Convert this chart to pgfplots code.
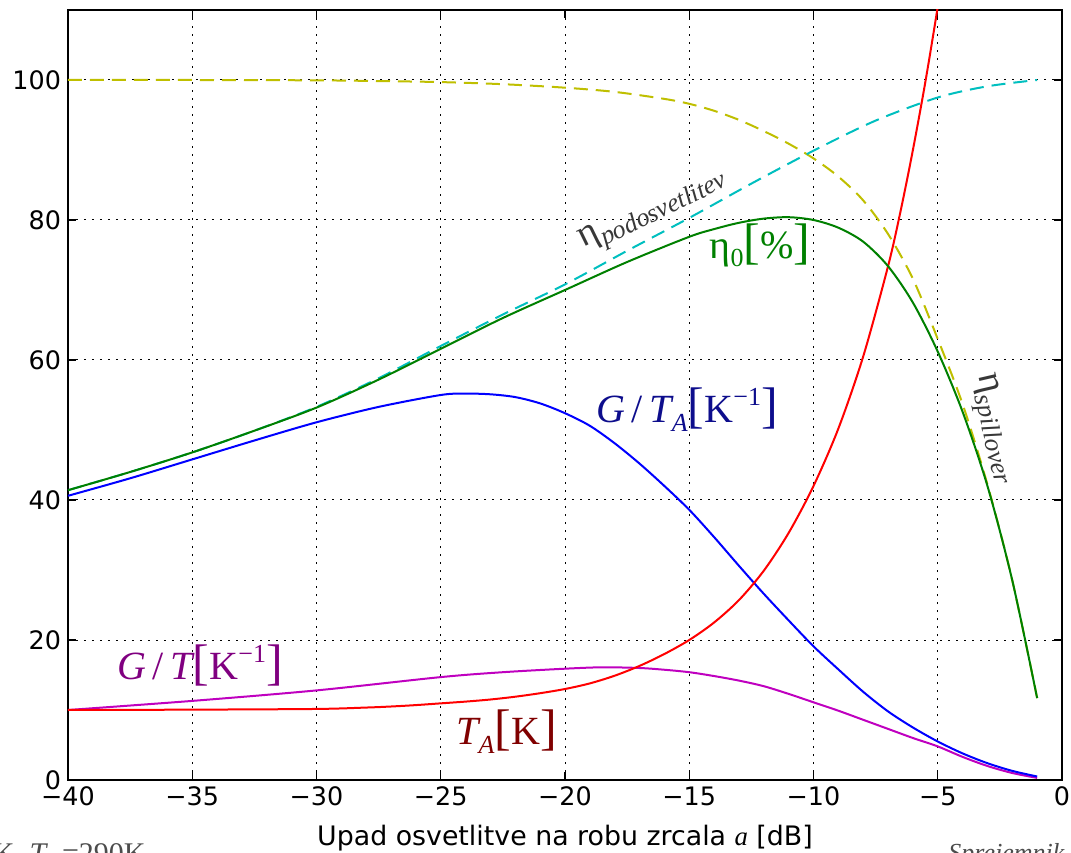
\documentclass[border=0pt]{standalone}
\usepackage{pgfplots}
\pgfplotsset{compat=1.18}
\usepackage{fontspec}
\setmainfont{DejaVu Sans}
\newfontfamily\stix{Liberation Serif}
\definecolor{mgreen}{rgb}{0,0.5,0}
\definecolor{mcyan}{rgb}{0,0.75,0.75}
\definecolor{myellow}{rgb}{0.75,0.75,0}
\definecolor{mmag}{rgb}{0.75,0,0.75}
\definecolor{mblue}{rgb}{0,0,1}
\definecolor{mred}{rgb}{1,0,0}
\definecolor{lblgray}{rgb}{0.22,0.22,0.22}
\definecolor{lblnavy}{rgb}{0.05,0.05,0.55}
\definecolor{lblpurple}{rgb}{0.5,0,0.5}
\definecolor{lblmaroon}{rgb}{0.5,0,0}
\definecolor{notegray}{rgb}{0.3,0.3,0.3}
\newcommand{\sub}[2][13]{\raisebox{-0.22em}{\fontsize{#1}{#1}\selectfont #2}}
\newcommand{\sps}[1]{\raisebox{0.42em}{\fontsize{13}{13}\selectfont #1}}
\newcommand{\bigbr}[1]{{\fontsize{25}{25}\selectfont #1}}

\pgfplotstableread{
x y
-40 41.4
-37.5 44.0
-35 46.8
-32.5 49.9
-30 53.2
-27.5 57.2
-25 61.6
-22.5 66.0
-20 70.0
-17.5 74.0
-15 77.6
-14 78.7
-13 79.6
-12 80.2
-11 80.4
-10 80.0
-9 78.9
-8 76.9
-7 73.4
-6 68.2
-5 61.2
-4 52.6
-3 42.0
-2 28.5
-1 11.7
}\etazero

\pgfplotstableread{
x y
-40 41.4
-37.5 44.0
-35 46.8
-32.5 49.9
-30 53.3
-27.5 57.4
-25 62.0
-22.5 66.5
-20 70.8
-17.5 75.6
-15 80.3
-12.5 85.2
-10 89.9
-7.5 94.2
-5 97.5
-3 99.1
-1 100
}\etapod

\pgfplotstableread{
x y
-40 100
-35 100
-30 99.95
-27.5 99.85
-25 99.7
-22.5 99.4
-20 98.9
-18 98.3
-16 97.3
-15 96.6
-14 95.6
-13 94.3
-12 92.7
-11 90.9
-10 88.8
-9 86.2
-8 82.8
-7 78.0
-6 71.6
-5 63.0
-4 53.7
-3 42.2
-2 28.5
-1 11.7
}\etaspill

\pgfplotstableread{
x y
-40 40.6
-37.5 43.1
-35 45.8
-32.5 48.5
-30 51.1
-27.5 53.3
-25 55.0
-24 55.2
-23 55.1
-22 54.7
-21 53.8
-20 52.4
-19 50.6
-18 48.1
-17 45.2
-16 42.0
-15 38.6
-14 34.7
-13 30.6
-12 26.6
-11 22.8
-10 19.1
-9 15.8
-8 12.6
-7 9.8
-6 7.5
-5 5.5
-4 3.8
-3 2.4
-2 1.3
-1 0.5
}\gta

\pgfplotstableread{
x y
-40 10.0
-35 10.05
-30 10.15
-28 10.35
-27 10.5
-26 10.7
-25 10.95
-24 11.2
-23 11.5
-22 11.9
-21 12.4
-20 13.0
-19 13.8
-18 14.9
-17 16.3
-16 18.0
-15 20.0
-14 22.5
-13 25.7
-12 29.9
-11 35.3
-10 42.0
-9 50.2
-8 60.5
-7 73.4
-6.5 81.2
-6 90.0
-5.5 99.7
-5 110.5
-4.8 116
}\ta

\pgfplotstableread{
x y
-40 10.0
-35 11.3
-30 12.8
-25 14.7
-22.5 15.4
-20 15.9
-18.5 16.1
-17 16.0
-16 15.75
-15 15.4
-14 14.85
-13 14.2
-12 13.4
-11 12.3
-10 11.1
-9 9.9
-8 8.6
-7 7.3
-6 6.0
-5 4.8
-4 3.3
-3 2.0
-2 1.0
-1 0.3
}\gt

\begin{document}
\begin{tikzpicture}
\begin{axis}[
  at={(0,0)}, anchor=south west,
  scale only axis, width=497pt, height=385pt,
  xmin=-40, xmax=0, ymin=0, ymax=110,
  xtick={-40,-35,...,0},
  xticklabels={−40,−35,−30,−25,−20,−15,−10,−5,0},
  ytick={0,20,...,100},
  yticklabels={0,20,40,60,80,100},
  grid=major,
  major grid style={black, line width=0.5pt, dash pattern=on 1pt off 3pt},
  tick align=inside, tick pos=both, major tick length=4pt,
  every tick/.style={black, line width=0.6pt},
  axis line style={line width=1pt},
  tick label style={font=\fontsize{12.7}{14}\selectfont},
  xlabel={Upad osvetlitve na robu zrcala {\stix\itshape a} [dB]},
  xlabel style={font=\fontsize{13.4}{15}\selectfont, at={(axis description cs:0.5,0)}, anchor=base, yshift=-32.5pt},
  every axis plot/.append style={line width=1pt},
]
\addplot[myellow, dash pattern=on 7pt off 4pt, smooth] table {\etaspill};
\addplot[mcyan, dash pattern=on 7pt off 4pt, smooth] table {\etapod};
\addplot[mmag, smooth] table {\gt};
\addplot[mblue, smooth] table {\gta};
\addplot[mred, smooth] table {\ta};
\addplot[mgreen, smooth] table {\etazero};

\node[lblgray, rotate=26, font=\stix\fontsize{19}{21}\selectfont] at (axis cs:-16.45,81.3) {η\sub{\itshape podosvetlitev}};
\node[mgreen, font=\stix\fontsize{20}{22}\selectfont] at (axis cs:-12.15,76.4) {η\sub{0}\bigbr{[}\%\bigbr{]}};
\node[lblnavy, font=\stix\fontsize{20}{22}\selectfont] at (axis cs:-15.09,52.9) {\itshape G\upshape\,/\,\itshape T\sub{A}\upshape\bigbr{[}K\sps{−1}\bigbr{]}};
\node[lblgray, rotate=-77, font=\stix\fontsize{19}{21}\selectfont] at (axis cs:-2.78,50.1) {η\sub{\itshape spillover}};
\node[lblpurple, font=\stix\fontsize{20}{22}\selectfont] at (axis cs:-34.69,16.4) {\itshape G\upshape\,/\,\itshape T\upshape\bigbr{[}K\sps{−1}\bigbr{]}};
\node[lblmaroon, font=\stix\fontsize{20}{22}\selectfont] at (axis cs:-22.35,6.9) {\itshape T\sub{A}\upshape\bigbr{[}K\bigbr{]}};
\end{axis}
\node[notegray, anchor=north east, inner sep=0pt, font=\stix\fontsize{15}{17}\selectfont] at (39pt,-31.4pt) {10K, \itshape T\sub[10.5]{r}\upshape\ =290K};
\node[notegray, anchor=north west, inner sep=0pt, font=\stix\itshape\fontsize{13}{15}\selectfont] at (440pt,-31.6pt) {Sprejemnik};
\pgfresetboundingbox
\useasboundingbox (-34pt,-36pt) rectangle (501.5pt,390pt);
\end{tikzpicture}
\end{document}
